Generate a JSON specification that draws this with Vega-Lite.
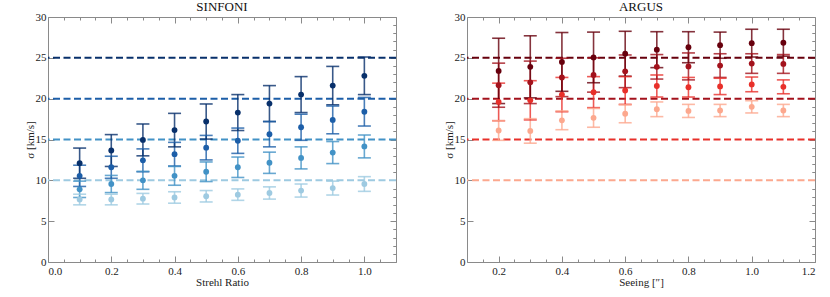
{
  "$schema": "https://vega.github.io/schema/vega-lite/v6.json",
  "padding": {"left": 23, "top": 0, "right": 5, "bottom": 0},
  "background": "white",
  "resolve": {"scale": {"color": "independent"}},
  "datasets": {
    "lines": [{"s": 10}, {"s": 15}, {"s": 20}, {"s": 25}],
    "sinfoni": [
      {"s": 10, "x": 0.1, "v": 7.65, "lo": 7.0, "hi": 8.3},
      {"s": 10, "x": 0.2, "v": 7.65, "lo": 7.0, "hi": 8.3},
      {"s": 10, "x": 0.3, "v": 7.75, "lo": 7.1, "hi": 8.4},
      {"s": 10, "x": 0.4, "v": 7.9, "lo": 7.2, "hi": 8.6},
      {"s": 10, "x": 0.5, "v": 8.05, "lo": 7.35, "hi": 8.75},
      {"s": 10, "x": 0.6, "v": 8.25, "lo": 7.55, "hi": 8.95},
      {"s": 10, "x": 0.7, "v": 8.45, "lo": 7.7, "hi": 9.2},
      {"s": 10, "x": 0.8, "v": 8.75, "lo": 7.95, "hi": 9.55},
      {"s": 10, "x": 0.9, "v": 9.05, "lo": 8.2, "hi": 9.9},
      {"s": 10, "x": 1.0, "v": 9.55, "lo": 8.65, "hi": 10.45},
      {"s": 15, "x": 0.1, "v": 8.9, "lo": 7.9, "hi": 9.9},
      {"s": 15, "x": 0.2, "v": 9.55, "lo": 8.5, "hi": 10.6},
      {"s": 15, "x": 0.3, "v": 10.0, "lo": 8.9, "hi": 11.1},
      {"s": 15, "x": 0.4, "v": 10.55, "lo": 9.4, "hi": 11.7},
      {"s": 15, "x": 0.5, "v": 11.05, "lo": 9.85, "hi": 12.25},
      {"s": 15, "x": 0.6, "v": 11.6, "lo": 10.35, "hi": 12.85},
      {"s": 15, "x": 0.7, "v": 12.15, "lo": 10.85, "hi": 13.45},
      {"s": 15, "x": 0.8, "v": 12.75, "lo": 11.4, "hi": 14.1},
      {"s": 15, "x": 0.9, "v": 13.4, "lo": 12.05, "hi": 14.75},
      {"s": 15, "x": 1.0, "v": 14.15, "lo": 12.75, "hi": 15.55},
      {"s": 20, "x": 0.1, "v": 10.55, "lo": 9.25, "hi": 11.85},
      {"s": 20, "x": 0.2, "v": 11.6, "lo": 10.25, "hi": 12.95},
      {"s": 20, "x": 0.3, "v": 12.45, "lo": 11.05, "hi": 13.85},
      {"s": 20, "x": 0.4, "v": 13.2, "lo": 11.75, "hi": 14.65},
      {"s": 20, "x": 0.5, "v": 14.0, "lo": 12.5, "hi": 15.5},
      {"s": 20, "x": 0.6, "v": 14.85, "lo": 13.3, "hi": 16.4},
      {"s": 20, "x": 0.7, "v": 15.65, "lo": 14.1, "hi": 17.2},
      {"s": 20, "x": 0.8, "v": 16.5, "lo": 14.9, "hi": 18.1},
      {"s": 20, "x": 0.9, "v": 17.4, "lo": 15.7, "hi": 19.1},
      {"s": 20, "x": 1.0, "v": 18.4, "lo": 16.65, "hi": 20.15},
      {"s": 25, "x": 0.1, "v": 12.1, "lo": 10.25, "hi": 13.95},
      {"s": 25, "x": 0.2, "v": 13.65, "lo": 11.7, "hi": 15.6},
      {"s": 25, "x": 0.3, "v": 14.95, "lo": 13.0, "hi": 16.9},
      {"s": 25, "x": 0.4, "v": 16.15, "lo": 14.1, "hi": 18.2},
      {"s": 25, "x": 0.5, "v": 17.2, "lo": 15.05, "hi": 19.35},
      {"s": 25, "x": 0.6, "v": 18.3, "lo": 16.1, "hi": 20.5},
      {"s": 25, "x": 0.7, "v": 19.4, "lo": 17.2, "hi": 21.6},
      {"s": 25, "x": 0.8, "v": 20.5, "lo": 18.3, "hi": 22.7},
      {"s": 25, "x": 0.9, "v": 21.6, "lo": 19.25, "hi": 23.95},
      {"s": 25, "x": 1.0, "v": 22.8, "lo": 20.5, "hi": 25.1}
    ],
    "argus": [
      {"s": 10, "x": 0.2, "v": 16.1, "lo": 14.9, "hi": 17.3},
      {"s": 10, "x": 0.3, "v": 16.05, "lo": 14.55, "hi": 17.55},
      {"s": 10, "x": 0.4, "v": 17.35, "lo": 16.2, "hi": 18.5},
      {"s": 10, "x": 0.5, "v": 17.65, "lo": 16.5, "hi": 18.8},
      {"s": 10, "x": 0.6, "v": 18.15, "lo": 17.05, "hi": 19.25},
      {"s": 10, "x": 0.7, "v": 18.7, "lo": 17.8, "hi": 19.6},
      {"s": 10, "x": 0.8, "v": 18.5, "lo": 17.7, "hi": 19.3},
      {"s": 10, "x": 0.9, "v": 18.55, "lo": 17.8, "hi": 19.3},
      {"s": 10, "x": 1.0, "v": 19.0, "lo": 18.25, "hi": 19.75},
      {"s": 10, "x": 1.1, "v": 18.55, "lo": 17.8, "hi": 19.3},
      {"s": 15, "x": 0.2, "v": 19.6, "lo": 17.3, "hi": 21.9},
      {"s": 15, "x": 0.3, "v": 19.8, "lo": 17.4, "hi": 22.2},
      {"s": 15, "x": 0.4, "v": 20.5, "lo": 18.4, "hi": 22.6},
      {"s": 15, "x": 0.5, "v": 20.8, "lo": 18.9, "hi": 22.7},
      {"s": 15, "x": 0.6, "v": 21.0, "lo": 19.3, "hi": 22.7},
      {"s": 15, "x": 0.7, "v": 21.55, "lo": 20.2, "hi": 22.9},
      {"s": 15, "x": 0.8, "v": 21.4, "lo": 20.2, "hi": 22.6},
      {"s": 15, "x": 0.9, "v": 21.5, "lo": 20.5, "hi": 22.5},
      {"s": 15, "x": 1.0, "v": 21.75, "lo": 20.85, "hi": 22.65},
      {"s": 15, "x": 1.1, "v": 21.45, "lo": 20.6, "hi": 22.3},
      {"s": 20, "x": 0.2, "v": 21.65, "lo": 18.95, "hi": 24.35},
      {"s": 20, "x": 0.3, "v": 22.0, "lo": 19.4, "hi": 24.6},
      {"s": 20, "x": 0.4, "v": 22.6, "lo": 20.25, "hi": 24.95},
      {"s": 20, "x": 0.5, "v": 22.9, "lo": 20.8, "hi": 25.0},
      {"s": 20, "x": 0.6, "v": 23.35, "lo": 21.35, "hi": 25.35},
      {"s": 20, "x": 0.7, "v": 23.9, "lo": 22.4, "hi": 25.4},
      {"s": 20, "x": 0.8, "v": 23.95, "lo": 22.3, "hi": 25.6},
      {"s": 20, "x": 0.9, "v": 24.05, "lo": 22.6, "hi": 25.5},
      {"s": 20, "x": 1.0, "v": 24.3, "lo": 23.1, "hi": 25.5},
      {"s": 20, "x": 1.1, "v": 24.25, "lo": 23.1, "hi": 25.4},
      {"s": 25, "x": 0.2, "v": 23.4, "lo": 19.4, "hi": 27.4},
      {"s": 25, "x": 0.3, "v": 23.9, "lo": 20.1, "hi": 27.7},
      {"s": 25, "x": 0.4, "v": 24.5, "lo": 20.9, "hi": 28.1},
      {"s": 25, "x": 0.5, "v": 25.05, "lo": 21.95, "hi": 28.15},
      {"s": 25, "x": 0.6, "v": 25.5, "lo": 22.75, "hi": 28.25},
      {"s": 25, "x": 0.7, "v": 26.0, "lo": 23.8, "hi": 28.2},
      {"s": 25, "x": 0.8, "v": 26.3, "lo": 24.4, "hi": 28.2},
      {"s": 25, "x": 0.9, "v": 26.55, "lo": 24.95, "hi": 28.15},
      {"s": 25, "x": 1.0, "v": 26.8, "lo": 25.1, "hi": 28.5},
      {"s": 25, "x": 1.1, "v": 26.85, "lo": 25.2, "hi": 28.5}
    ]
  },
  "config": {
    "view": {"stroke": "#8a8a8a", "strokeWidth": 1},
    "axis": {
      "labelFont": "Liberation Serif", "labelFontSize": 11, "labelColor": "#222",
      "titleFont": "Liberation Serif", "titleFontSize": 11, "titleFontWeight": "normal", "titleColor": "#222",
      "domain": false, "grid": false, "tickColor": "#8a8a8a", "tickWidth": 1
    },
    "title": {"font": "Liberation Serif", "fontSize": 13, "fontWeight": "normal", "color": "#111", "offset": -3}
  },
  "spacing": 44,
  "hconcat": [
    {
      "width": 348, "height": 245,
      "title": "SINFONI",
      "resolve": {"axis": {"x": "independent", "y": "independent"}},
      "layer": [
        {
          "data": {"name": "lines"},
          "mark": {"type": "rule", "strokeDash": [7, 3.5], "strokeWidth": 2},
          "encoding": {
            "y": {"field": "s", "type": "quantitative", "scale": {"domain": [0, 30], "nice": false, "zero": false},
                  "axis": {"values": [0, 5, 10, 15, 20, 25, 30], "tickSize": -6, "labelPadding": 8, "title": "σ [km/s]", "titlePadding": 0}},
            "color": {"field": "s", "type": "ordinal", "legend": null,
                      "scale": {"domain": [10, 15, 20, 25], "range": ["#9ecae1", "#4292c6", "#1c5ea8", "#08306b"]}}
          }
        },
        {
          "data": {"name": "sinfoni"},
          "mark": {"type": "rule", "strokeWidth": 1.6, "opacity": 0.8},
          "encoding": {
            "x": {"field": "x", "type": "quantitative", "scale": {"domain": [0, 1.1], "nice": false, "zero": false},
                  "axis": {"values": [0, 0.2, 0.4, 0.6, 0.8, 1.0], "format": ".1f", "tickSize": -6, "labelPadding": 9, "title": "Strehl Ratio", "titlePadding": 0}},
            "y": {"field": "lo", "type": "quantitative", "axis": {"values": [1,2,3,4,6,7,8,9,11,12,13,14,16,17,18,19,21,22,23,24,26,27,28,29], "tickSize": -3, "labels": false, "title": null}},
            "y2": {"field": "hi"},
            "color": {"field": "s", "type": "ordinal", "legend": null}
          }
        },
        {
          "data": {"name": "sinfoni"},
          "mark": {"type": "tick", "orient": "horizontal", "size": 13, "thickness": 1.6, "opacity": 0.8},
          "encoding": {
            "x": {"field": "x", "type": "quantitative", "axis": {"orient": "top", "values": [0, 0.2, 0.4, 0.6, 0.8, 1.0], "tickSize": -6, "labels": false, "title": null}},
            "y": {"field": "lo", "type": "quantitative", "axis": {"orient": "right", "values": [0, 5, 10, 15, 20, 25, 30], "tickSize": -6, "labels": false, "title": null}},
            "color": {"field": "s", "type": "ordinal", "legend": null}
          }
        },
        {
          "data": {"name": "sinfoni"},
          "mark": {"type": "tick", "orient": "horizontal", "size": 13, "thickness": 1.6, "opacity": 0.8},
          "encoding": {
            "x": {"field": "x", "type": "quantitative", "axis": {"values": [0.05,0.1,0.15,0.25,0.3,0.35,0.45,0.5,0.55,0.65,0.7,0.75,0.85,0.9,0.95,1.05,1.1], "tickSize": -3, "labels": false, "title": null}},
            "y": {"field": "hi", "type": "quantitative", "axis": {"orient": "right", "values": [1,2,3,4,6,7,8,9,11,12,13,14,16,17,18,19,21,22,23,24,26,27,28,29], "tickSize": -3, "labels": false, "title": null}},
            "color": {"field": "s", "type": "ordinal", "legend": null}
          }
        },
        {
          "data": {"name": "sinfoni"},
          "mark": {"type": "circle", "size": 34, "opacity": 1},
          "encoding": {
            "x": {"field": "x", "type": "quantitative", "axis": {"orient": "top", "values": [0.05,0.1,0.15,0.25,0.3,0.35,0.45,0.5,0.55,0.65,0.7,0.75,0.85,0.9,0.95,1.05,1.1], "tickSize": -3, "labels": false, "title": null}},
            "y": {"field": "v", "type": "quantitative", "axis": null},
            "color": {"field": "s", "type": "ordinal", "legend": null}
          }
        }
      ]
    },
    {
      "width": 348, "height": 245,
      "title": "ARGUS",
      "resolve": {"axis": {"x": "independent", "y": "independent"}},
      "layer": [
        {
          "data": {"name": "lines"},
          "mark": {"type": "rule", "strokeDash": [7, 3.5], "strokeWidth": 2},
          "encoding": {
            "y": {"field": "s", "type": "quantitative", "scale": {"domain": [0, 30], "nice": false, "zero": false},
                  "axis": {"values": [0, 5, 10, 15, 20, 25, 30], "tickSize": -6, "labelPadding": 8, "title": "σ [km/s]", "titlePadding": 0}},
            "color": {"field": "s", "type": "ordinal", "legend": null,
                      "scale": {"domain": [10, 15, 20, 25], "range": ["#fca88e", "#e8302a", "#a3121c", "#67000d"]}}
          }
        },
        {
          "data": {"name": "argus"},
          "mark": {"type": "rule", "strokeWidth": 1.6, "opacity": 0.8},
          "encoding": {
            "x": {"field": "x", "type": "quantitative", "scale": {"domain": [0.1, 1.2], "nice": false, "zero": false},
                  "axis": {"values": [0.2, 0.4, 0.6, 0.8, 1.0, 1.2], "format": ".1f", "tickSize": -6, "labelPadding": 9, "title": "Seeing [″]", "titlePadding": 0}},
            "y": {"field": "lo", "type": "quantitative", "axis": {"values": [1,2,3,4,6,7,8,9,11,12,13,14,16,17,18,19,21,22,23,24,26,27,28,29], "tickSize": -3, "labels": false, "title": null}},
            "y2": {"field": "hi"},
            "color": {"field": "s", "type": "ordinal", "legend": null}
          }
        },
        {
          "data": {"name": "argus"},
          "mark": {"type": "tick", "orient": "horizontal", "size": 13, "thickness": 1.6, "opacity": 0.8},
          "encoding": {
            "x": {"field": "x", "type": "quantitative", "axis": {"orient": "top", "values": [0.2, 0.4, 0.6, 0.8, 1.0], "tickSize": -6, "labels": false, "title": null}},
            "y": {"field": "lo", "type": "quantitative", "axis": {"orient": "right", "values": [0, 5, 10, 15, 20, 25, 30], "tickSize": -6, "labels": false, "title": null}},
            "color": {"field": "s", "type": "ordinal", "legend": null}
          }
        },
        {
          "data": {"name": "argus"},
          "mark": {"type": "tick", "orient": "horizontal", "size": 13, "thickness": 1.6, "opacity": 0.8},
          "encoding": {
            "x": {"field": "x", "type": "quantitative", "axis": {"values": [0.15,0.25,0.3,0.35,0.45,0.5,0.55,0.65,0.7,0.75,0.85,0.9,0.95,1.05,1.1,1.15], "tickSize": -3, "labels": false, "title": null}},
            "y": {"field": "hi", "type": "quantitative", "axis": {"orient": "right", "values": [1,2,3,4,6,7,8,9,11,12,13,14,16,17,18,19,21,22,23,24,26,27,28,29], "tickSize": -3, "labels": false, "title": null}},
            "color": {"field": "s", "type": "ordinal", "legend": null}
          }
        },
        {
          "data": {"name": "argus"},
          "mark": {"type": "circle", "size": 34, "opacity": 1},
          "encoding": {
            "x": {"field": "x", "type": "quantitative", "axis": {"orient": "top", "values": [0.15,0.25,0.3,0.35,0.45,0.5,0.55,0.65,0.7,0.75,0.85,0.9,0.95,1.05,1.1,1.15], "tickSize": -3, "labels": false, "title": null}},
            "y": {"field": "v", "type": "quantitative", "axis": null},
            "color": {"field": "s", "type": "ordinal", "legend": null}
          }
        }
      ]
    }
  ]
}
